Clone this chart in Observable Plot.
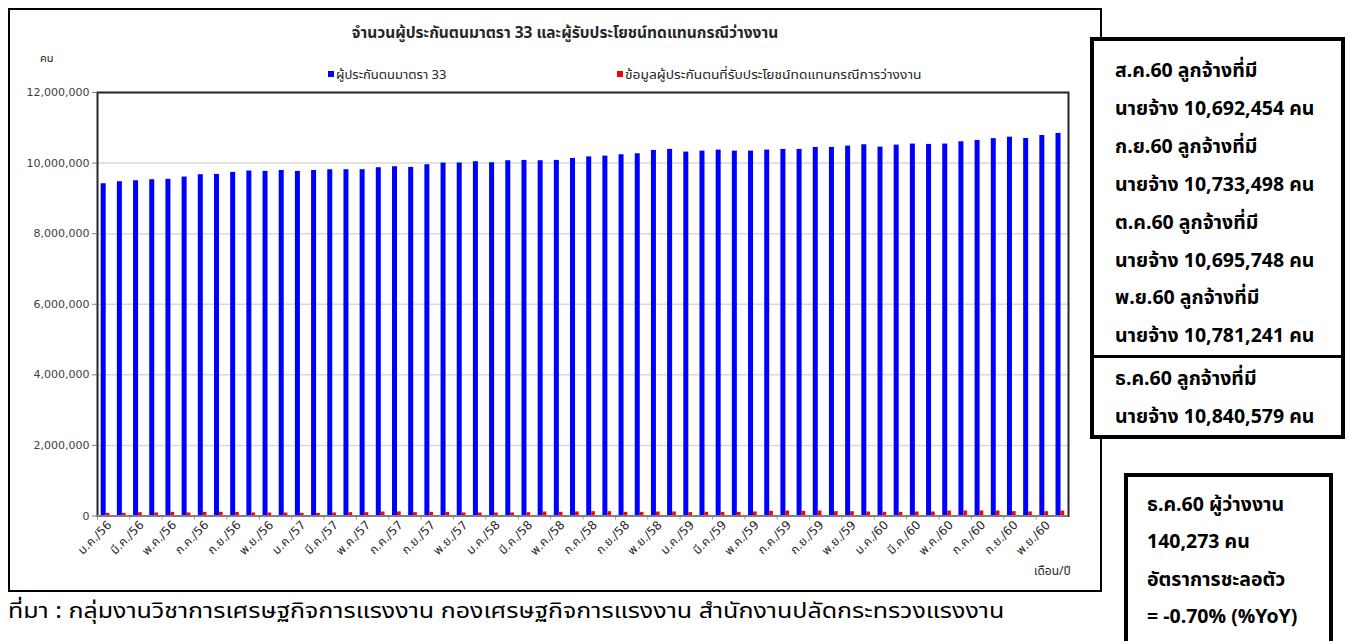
<!DOCTYPE html>
<html>
<head>
<meta charset="utf-8">
<script src="https://cdn.jsdelivr.net/npm/d3@7"></script>
<script src="https://cdn.jsdelivr.net/npm/@observablehq/plot@0.6"></script>
<style>
  html, body { margin: 0; padding: 0; background: #fff; }
  body { width: 1349px; height: 641px; position: relative; overflow: hidden;
         font-family: Tahoma, "Noto Sans Thai", "Leelawadee UI", "Noto Sans", sans-serif; color: #000; }
  #frame { position: absolute; left: 8px; top: 8px; width: 1090px; height: 580px; border: 2px solid #000; background: #fff; }
  #chart { position: absolute; left: 0; top: 0; }
  .t { position: absolute; white-space: nowrap; }
  #title { left: 0; width: 1110px; top: 12px; text-align: center; font-size: 15.5px; font-weight: bold; color: #262626; }
  #unit { left: 30px; top: 40px; font-size: 11px; color: #262626; }
  .leg { top: 55px; font-size: 13px; color: #262626; }
  .sw { display: inline-block; width: 6px; height: 6px; margin-right: 2px; vertical-align: 2px; }
  #xlab { left: 1024px; top: 552px; font-size: 12px; color: #262626; }
  #source { left: 8px; top: 596px; font-size: 21px; transform-origin: 0 50%; transform: scaleX(1.19); }
  .box { position: absolute; border: 4px solid #000; background: #fff; }
  .bl { position: absolute; white-space: nowrap; font-weight: bold; font-size: 19.5px; line-height: 38px; }
</style>
</head>
<body>
<div id="frame">
  <div id="chart"></div>
  <div class="t" id="title">จำนวนผู้ประกันตนมาตรา 33 และผู้รับประโยชน์ทดแทนกรณีว่างงาน</div>
  <div class="t" id="unit">คน</div>
  <div class="t leg" id="leg1" style="left:318px"><span class="sw" style="background:#0000ff"></span>ผู้ประกันตนมาตรา 33</div>
  <div class="t leg" id="leg2" style="left:607px"><span class="sw" style="background:#ff0000"></span><span style="display:inline-block; transform-origin:0 50%; transform:scaleX(1.06)">ข้อมูลผู้ประกันตนที่รับประโยชน์ทดแทนกรณีการว่างงาน</span></div>
  <div class="t" id="xlab">เดือน/ปี</div>
</div>
<div class="t" id="source">ที่มา : กลุ่มงานวิชาการเศรษฐกิจการแรงงาน กองเศรษฐกิจการแรงงาน สำนักงานปลัดกระทรวงแรงงาน</div>

<div class="box" id="box1" style="left:1090px; top:37px; width:247px; height:394px;">
  <div style="position:absolute; left:0; right:0; top:314px; border-top:3px solid #000;"></div>
</div>
<div class="box" id="box2" style="left:1124px; top:473px; width:201px; height:200px;"></div>
<div id="boxtext"></div>

<script>
// ---- data ----
const monthNames = ["ม.ค.","ก.พ.","มี.ค.","เม.ย.","พ.ค.","มิ.ย.","ก.ค.","ส.ค.","ก.ย.","ต.ค.","พ.ย.","ธ.ค."];
const yearNames = ["56","57","58","59","60"];
const categories = yearNames.flatMap(y => monthNames.map(m => `${m}/${y}`));

const insured = [
  9415200, 9472400, 9500100, 9528300, 9538600, 9604200, 9670500, 9679100, 9736400, 9774200, 9764800, 9790300,
  9764100, 9790600, 9811200, 9811900, 9812400, 9868300, 9896100, 9877500, 9953200, 10000400, 10001200, 10038500,
  10009300, 10066200, 10075400, 10066900, 10075800, 10132100, 10175400, 10198300, 10236200, 10264500, 10358100, 10387200,
  10311400, 10339600, 10368200, 10339100, 10339800, 10368500, 10387100, 10387900, 10443200, 10443800, 10481300, 10519400,
  10453100, 10509200, 10538400, 10528300, 10538900, 10604100, 10641300, 10692454, 10733498, 10695748, 10781241, 10840579
];
const unemployed = [
  74500, 76200, 93800, 86100, 103400, 85900, 102700, 104100, 101600, 86300, 84800, 83900,
  75800, 73900, 85200, 94700, 95300, 112600, 114900, 95100, 104800, 103200, 86400, 84700,
  85300, 86900, 93600, 112800, 105400, 113700, 122600, 121900, 104300, 103100, 112400, 113900,
  95600, 104700, 102900, 103800, 114200, 131500, 140600, 132800, 141800, 123400, 122100, 113500,
  104900, 103600, 112700, 114100, 139800, 141600, 142300, 140900, 123700, 114800, 122500, 140273
];
const yTicks = [0, 2000000, 4000000, 6000000, 8000000, 10000000, 12000000];
const labelMonths = categories.filter((d, i) => i % 2 === 0);

const box1Lines = [
  "ส.ค.60 ลูกจ้างที่มี", "นายจ้าง 10,692,454 คน",
  "ก.ย.60 ลูกจ้างที่มี", "นายจ้าง 10,733,498 คน",
  "ต.ค.60 ลูกจ้างที่มี", "นายจ้าง 10,695,748 คน",
  "พ.ย.60 ลูกจ้างที่มี", "นายจ้าง 10,781,241 คน"
];
const box1bLines = ["ธ.ค.60 ลูกจ้างที่มี", "นายจ้าง 10,840,579 คน"];
const box2Lines = ["ธ.ค.60 ผู้ว่างงาน", "140,273 คน", "อัตราการชะลอตัว", "= -0.70% (%YoY)"];

// ---- chart ----
const data = categories.map((c, i) => ({month: c, insured: insured[i], unemployed: unemployed[i]}));
const W = 1090, H = 580, ML = 87, MR = 32, MT = 82, MB = 74.5;
const bw = (W - ML - MR) / categories.length;

const chart = Plot.plot({
  width: W, height: H,
  marginLeft: ML, marginRight: MR, marginTop: MT, marginBottom: MB,
  style: {fontFamily: 'Tahoma, "DejaVu Sans", "Noto Sans Thai", sans-serif', background: "transparent", overflow: "visible", color: "#404040"},
  x: {domain: categories, padding: 0, round: false, axis: null},
  y: {domain: [0, 12000000], axis: null},
  marks: [
    Plot.gridY(yTicks, {stroke: "#d9d9d9", strokeOpacity: 1, strokeWidth: 1.5}),
    Plot.barY(data, {x: "month", y: "insured", fill: "#0000ff", insetLeft: 3.7, insetRight: bw - 8.7}),
    Plot.barY(data, {x: "month", y: "unemployed", fill: "#ff0000", insetLeft: 8.7, insetRight: bw - 12.4}),
    Plot.ruleX(labelMonths, {x: d => d, y1: 0, y2: 0, dx: -bw / 2, insetBottom: -4, stroke: "#999", strokeWidth: 1}),
    Plot.frame({stroke: "#262626", strokeWidth: 2}),
    Plot.ruleY([0], {stroke: "#7f7f7f", strokeWidth: 2}),
    Plot.axisY(yTicks, {anchor: "left", tickFormat: d3.format(","), tickSize: 5, tickPadding: 3, fontSize: 11, stroke: "#7f7f7f", color: "#404040", label: null}),
    Plot.axisX(labelMonths, {anchor: "bottom", tickRotate: -45, tickSize: 0, tickPadding: 7, dx: 4, fontSize: 12, color: "#262626", label: null})
  ]
});
document.getElementById("chart").appendChild(chart);

// ---- boxes text ----
const bt = document.getElementById("boxtext");
function addLines(lines, left, firstCenter, step) {
  lines.forEach((s, i) => {
    const d = document.createElement("div");
    d.className = "bl";
    d.style.left = left + "px";
    d.style.top = (firstCenter + i * step - 19) + "px";
    d.textContent = s;
    bt.appendChild(d);
  });
}
addLines(box1Lines, 1115, 71, 37.9);
addLines(box1bLines, 1115, 379, 37.5);
addLines(box2Lines, 1147, 505, 37.3);
</script>
</body>
</html>
